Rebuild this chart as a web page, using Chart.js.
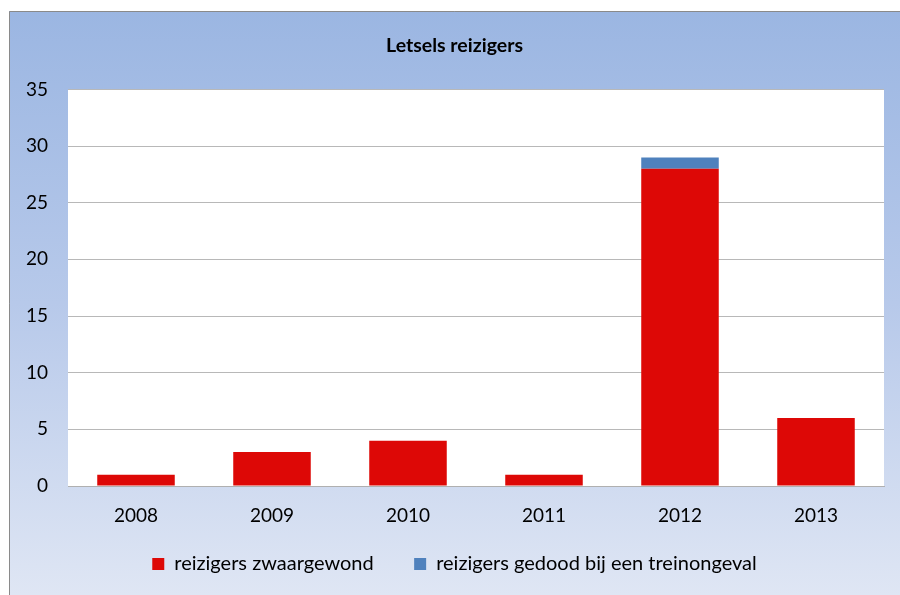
<!DOCTYPE html>
<html>
<head>
<meta charset="utf-8">
<script src="https://cdn.jsdelivr.net/npm/chart.js@4.4.1/dist/chart.umd.min.js"></script>
<style>
  html, body { margin: 0; padding: 0; background: #ffffff; }
  #wrap { position: relative; width: 900px; height: 595px; }
</style>
</head>
<body>
<div id="wrap"><canvas id="myChart" width="900" height="595"></canvas></div>
<script>
var years = ['2008', '2009', '2010', '2011', '2012', '2013'];
var zwaargewond = [1, 3, 4, 1, 28, 6];
var gedood = [0, 0, 0, 0, 1, 0];
var yTicks = [0, 5, 10, 15, 20, 25, 30, 35];

var fontFamily = 'Lato, "Open Sans", sans-serif';

// frame with blue gradient behind everything, white plot area on top of it
var framePlugin = {
    id: 'frame',
    beforeDraw: function(chart) {
        var c = chart.ctx;
        var a = chart.chartArea;
        c.save();
        c.fillStyle = '#ffffff';
        c.fillRect(0, 0, chart.width, chart.height);
        var g = c.createLinearGradient(0, 11, 0, chart.height);
        g.addColorStop(0, '#9bb6e2');
        g.addColorStop(0.5, '#b7c9ea');
        g.addColorStop(1, '#dfe6f4');
        c.fillStyle = g;
        c.fillRect(9, 11, chart.width - 9, chart.height - 11);
        c.strokeStyle = '#8a8a8a';
        c.lineWidth = 1;
        c.beginPath();
        c.moveTo(9.5, chart.height);
        c.lineTo(9.5, 11.5);
        c.lineTo(chart.width, 11.5);
        c.stroke();
        c.fillStyle = '#ffffff';
        c.fillRect(a.left, a.top, a.right - a.left, a.bottom - a.top);
        c.restore();
    }
};

var ctx = document.getElementById('myChart');

var graphData = {
    type: 'bar',
    data: {
        labels: years,
        datasets: [{
            label: 'reizigers zwaargewond',
            data: zwaargewond,
            backgroundColor: '#dd0806',
            borderWidth: 0
        }, {
            label: 'reizigers gedood bij een treinongeval',
            data: gedood,
            backgroundColor: '#4f81bd',
            borderWidth: 0
        }]
    },
    options: {
        responsive: false,
        animation: false,
        layout: {
            padding: { left: 25, right: 16, top: 34, bottom: 11 }
        },
        datasets: {
            bar: { barPercentage: 0.57, categoryPercentage: 1.0 }
        },
        plugins: {
            title: {
                display: true,
                text: 'Letsels reizigers',
                color: '#000000',
                font: { family: fontFamily, size: 19.5, weight: 'bold' },
                padding: { top: 0, bottom: 32 }
            },
            legend: {
                position: 'bottom',
                labels: {
                    color: '#000000',
                    font: { family: fontFamily, size: 20 },
                    boxWidth: 12,
                    boxHeight: 12,
                    padding: 20,
                    // a little extra room after each entry, the entries sit far apart
                    generateLabels: function(chart) {
                        var items = Chart.defaults.plugins.legend.labels.generateLabels(chart);
                        items.forEach(function(item, i) {
                            if (i < items.length - 1) item.text += '    ';
                        });
                        return items;
                    }
                }
            },
            tooltip: { enabled: false }
        },
        scales: {
            x: {
                stacked: true,
                afterFit: function(scale) { scale.height = 48; },
                grid: { display: false, drawTicks: false },
                border: { display: true, color: '#b0b0b0' },
                ticks: {
                    color: '#000000',
                    font: { family: fontFamily, size: 19 },
                    padding: 18
                }
            },
            y: {
                stacked: true,
                min: 0,
                max: 35,
                afterFit: function(scale) { scale.width = 43; },
                afterBuildTicks: function(scale) {
                    scale.ticks = yTicks.map(function(v) { return { value: v }; });
                },
                grid: { color: '#b8b8b8', drawTicks: false },
                border: { display: false },
                ticks: {
                    color: '#000000',
                    font: { family: fontFamily, size: 19 },
                    padding: 20
                }
            }
        }
    },
    plugins: [framePlugin]
};

var myChart = new Chart(ctx, graphData);
</script>
</body>
</html>
